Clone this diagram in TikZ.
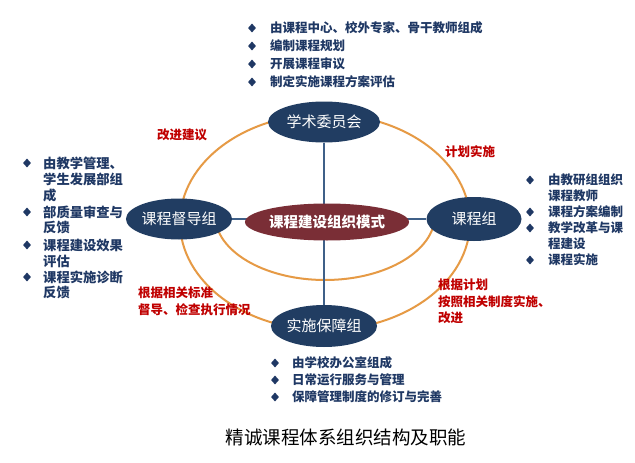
\documentclass[tikz,border=0pt]{standalone}
\usepackage{fontspec}
\setmainfont{Noto Sans CJK SC}
\usetikzlibrary{shapes.geometric,backgrounds}
\definecolor{navy}{HTML}{213D62}
\definecolor{maroonc}{HTML}{7A2E36}
\definecolor{orng}{HTML}{E69A45}
\definecolor{lineblue}{HTML}{3F6088}
\definecolor{txtblue}{HTML}{1F3864}
\definecolor{myred}{HTML}{C00000}
\begin{document}
\begin{tikzpicture}[x=1pt,y=-1pt,
  org/.style={ellipse, fill=navy, text=white, inner sep=0pt, font=\fontsize{15}{15}\selectfont},
  bl/.style={diamond, fill=txtblue, inner sep=0pt, minimum width=8pt, minimum height=9pt},
  li/.style={anchor=west, inner sep=0pt, text=txtblue, font=\bfseries\fontsize{12.5}{12.5}\selectfont},
  lil/.style={li, font=\bfseries\fontsize{13.3}{13.3}\selectfont},
  lab/.style={anchor=west, inner sep=0pt, text=myred, font=\bfseries\fontsize{12.5}{12.5}\selectfont},
  arcline/.style={orng, line width=2pt},
  conn/.style={lineblue, line width=2pt}
]
\useasboundingbox (0,0) rectangle (635,463);

% organisation nodes
\node[org, minimum width=112pt, minimum height=41pt] (xs) at (324,122) {学术委员会};
\node[org, minimum width=93pt, minimum height=41pt] (dd) at (179,219) {课程督导组};
\node[org, minimum width=95pt, minimum height=44pt] (kc) at (474,219) {课程组};
\node[org, minimum width=101pt, minimum height=42pt] (ss) at (324,326) {实施保障组};
\node[ellipse, fill=maroonc, text=white, minimum width=159pt, minimum height=37pt, inner sep=0pt,
      font=\bfseries\fontsize{14.5}{14.5}\selectfont] (cm) at (327,222) {课程建设组织模式};

\begin{scope}[on background layer]
  \fill[white] (0,0) rectangle (635,463);
  \draw[arcline] (325,222) ellipse [x radius=145, y radius=108];
  \draw[arcline] (215,215) arc[start angle=180, end angle=0, x radius=110, y radius=65];
  \draw[conn] (xs) -- (ss);
  \draw[conn] (dd) -- (kc);
\end{scope}

% top list
\node[bl] (tb1) at (252,28) {};
\node[li] (tt1) at (270,28) {由课程中心、校外专家、骨干教师组成};
\node[bl] (tb2) at (252,46) {};
\node[li] (tt2) at (270,46) {编制课程规划};
\node[bl] (tb3) at (252,64) {};
\node[li] (tt3) at (270,64) {开展课程审议};
\node[bl] (tb4) at (252,82) {};
\node[li] (tt4) at (270,82) {制定实施课程方案评估};

% left list
\node[bl] (lb1) at (27,163) {};
\node[lil] (lt1) at (43,163) {由教学管理、};
\node[lil] (lt2) at (43,179) {学生发展部组};
\node[lil] (lt3) at (43,195) {成};
\node[bl] (lb2) at (27,212) {};
\node[lil] (lt4) at (43,212) {部质量审查与};
\node[lil] (lt5) at (43,228) {反馈};
\node[bl] (lb3) at (27,245) {};
\node[lil] (lt6) at (43,245) {课程建设效果};
\node[lil] (lt7) at (43,261) {评估};
\node[bl] (lb4) at (27,277) {};
\node[lil] (lt8) at (43,277) {课程实施诊断};
\node[lil] (lt9) at (43,293) {反馈};

% right list
\node[bl] (rb1) at (530,180) {};
\node[li] (rt1) at (548,180) {由教研组组织};
\node[li] (rt2) at (548,196) {课程教师};
\node[bl] (rb2) at (530,212) {};
\node[li] (rt3) at (548,212) {课程方案编制};
\node[bl] (rb3) at (530,228) {};
\node[li] (rt4) at (548,228) {教学改革与课};
\node[li] (rt5) at (548,244) {程建设};
\node[bl] (rb4) at (530,260) {};
\node[li] (rt6) at (548,260) {课程实施};

% bottom list
\node[bl] (bb1) at (275,363) {};
\node[li] (bt1) at (292,363) {由学校办公室组成};
\node[bl] (bb2) at (275,380) {};
\node[li] (bt2) at (292,380) {日常运行服务与管理};
\node[bl] (bb3) at (275,397) {};
\node[li] (bt3) at (292,397) {保障管理制度的修订与完善};

% red labels
\node[lab] (l1) at (157,135) {改进建议};
\node[lab] (l2) at (445,152) {计划实施};
\node[lab] (l3) at (138,293) {根据相关标准};
\node[lab] (l4) at (138,310) {督导、检查执行情况};
\node[lab] (l5) at (438,285) {根据计划};
\node[lab] (l6) at (438,302) {按照相关制度实施、};
\node[lab] (l7) at (438,318) {改进};

% caption
\node[font=\fontsize{18.5}{18.5}\selectfont, text=black, inner sep=0pt] (cap) at (346,437) {精诚课程体系组织结构及职能};
\end{tikzpicture}
\end{document}
